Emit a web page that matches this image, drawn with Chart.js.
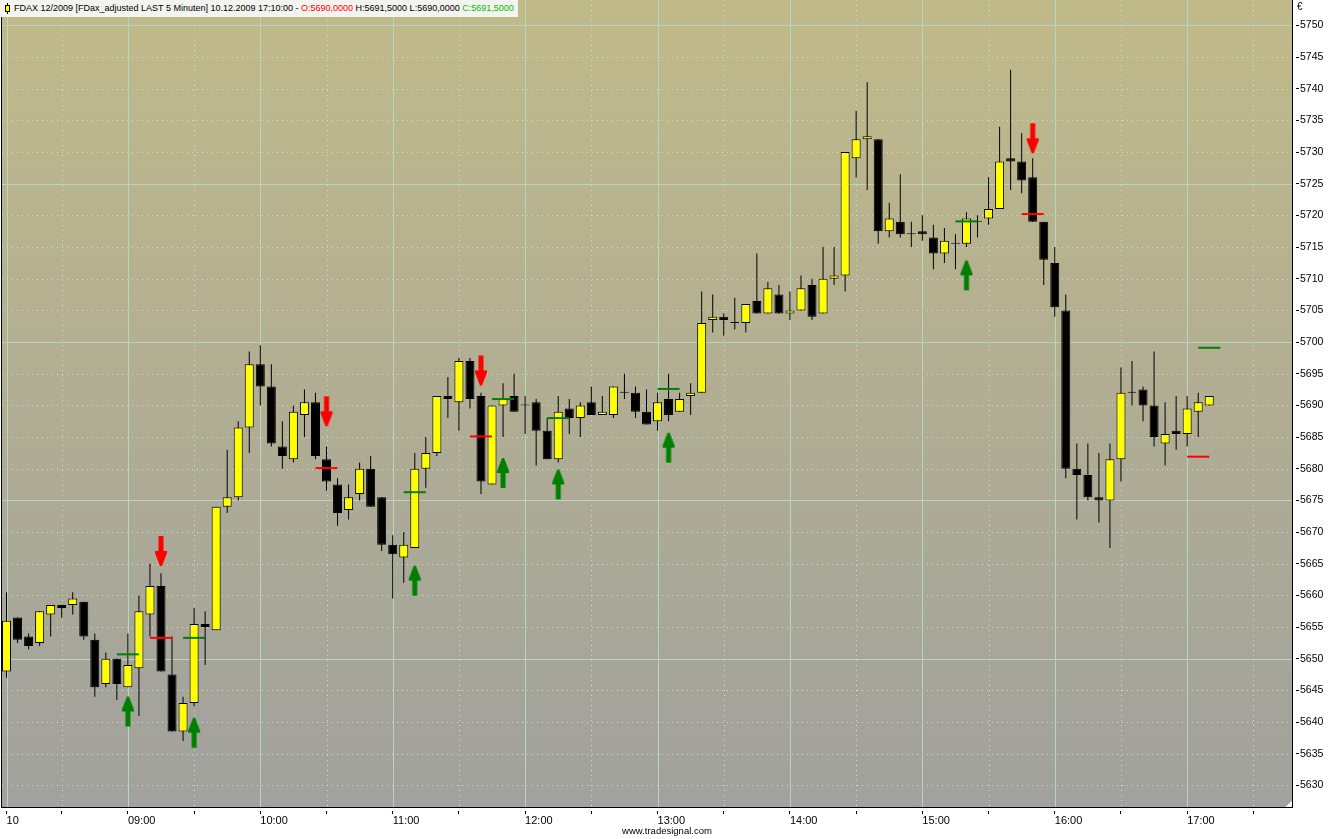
<!DOCTYPE html>
<html><head><meta charset="utf-8">
<script src="https://cdn.jsdelivr.net/npm/chart.js@4.4.0/dist/chart.umd.min.js"></script>
<style>
html,body{margin:0;padding:0;background:#fff;}
#wrap{position:relative;width:1334px;height:839px;overflow:hidden;}
#c{position:absolute;left:0;top:0;}
#title{position:absolute;left:0;top:0;height:17px;line-height:17px;background:#f3f3ef;font-family:'Liberation Sans',Arial,sans-serif;font-size:9px;color:#000;padding:0 4px 0 14px;white-space:nowrap;}
#title .o{color:#ff0000;} #title .cl{color:#00c000;}
#iconWick{position:absolute;left:7px;top:3px;width:1px;height:11px;background:#000;}
#iconBody{position:absolute;left:5px;top:5px;width:3px;height:5px;background:#ffff00;border:1px solid #000;}
#euro{position:absolute;left:1297px;top:1px;font-family:'Liberation Sans',Arial,sans-serif;font-size:10px;color:#000;}
#wm{position:absolute;left:0;width:1334px;text-align:center;top:825px;font-family:'Liberation Sans',Arial,sans-serif;font-size:9.5px;color:#000;}
#corner{position:absolute;left:1286px;top:801px;width:6px;height:6px;background:linear-gradient(135deg,rgba(0,0,0,0) 50%,#f4f4f4 50%);}
</style></head>
<body>
<div id="wrap">
<canvas id="c" width="1334" height="839"></canvas>
<div id="title">FDAX 12/2009 [FDax_adjusted LAST 5 Minuten] 10.12.2009 17:10:00 - <span class="o">O:5690,0000</span> H:5691,5000 L:5690,0000 <span class="cl">C:5691,5000</span></div>
<div id="iconWick"></div><div id="iconBody"></div>
<div id="euro">€</div>
<div id="corner"></div>
<div id="wm">www.tradesignal.com</div>
</div>
<script>
// ---------- DATA ----------
const dayLabel = '10';
const times = [];
for (let m = 8 * 60 + 5; m <= 17 * 60 + 45; m += 5) {
  times.push(String(Math.floor(m / 60)).padStart(2, '0') + ':' + String(m % 60).padStart(2, '0'));
}
const yTicks = [5630,5635,5640,5645,5650,5655,5660,5665,5670,5675,5680,5685,5690,5695,5700,5705,5710,5715,5720,5725,5730,5735,5740,5745,5750];
const yMin = 5626.6, yMax = 5754.0;

const opens = [5648,5656.5,5653.5,5652.5,5657,5658.5,5658.5,5659,5653,5646,
5650,5645.5,5648.5,5657,5661.5,5647.5,5638.5,5643,5655.5,5654.5,
5674,5675.5,5686.5,5696.5,5693,5683.5,5681.5,5688.5,5690.5,5681.5,
5677.5,5673.5,5676,5680,5675.5,5668,5666,5667.5,5680,5682.5,
5691.5,5690.5,5697,5691.5,5677.5,5690,5691.5,5690,5690.5,5686,
5681.5,5689.5,5688,5690.5,5688.5,5688.5,5692,5692,5689,5687.5,
5691,5689,5691.5,5692,5703.5,5704,5703,5703,5706.5,5704.5,
5707.5,5704.5,5705,5709,5704.5,5710,5710.5,5729,5732,5732,
5717.5,5719,5717,5717.5,5716.5,5714,5715.5,5715.5,5719,5719.5,
5721,5729,5728.5,5726,5719,5712.5,5705,5680,5679,5675.5,
5675,5681.5,5692,5692.5,5690,5684,5686,5685.5,5689,5690];
const highs = [5660.5,5656.5,5654,5657.5,5658.5,5658.5,5660.5,5659,5654,5651,
5650,5654,5660,5665,5663.5,5653.5,5644,5658,5657.5,5674,
5683,5687.5,5698.5,5699.5,5696.5,5687.5,5690,5692.5,5692,5683.5,
5678.5,5677.5,5681,5682,5675.5,5669.5,5670,5682.5,5685,5691.5,
5694.5,5697.5,5697.5,5692,5690,5693.5,5695,5691.5,5691,5688,
5691.5,5691,5690.5,5693,5691.5,5693,5695,5693,5692.5,5692,
5695,5692,5693.5,5708,5707.5,5704.5,5707,5706,5714,5709.5,
5709,5708,5710.5,5710,5715,5715,5730,5736.5,5741,5732,
5722,5726.5,5719,5720,5718.5,5718,5717,5720.5,5720,5726,
5734,5743,5733,5729,5719,5715,5707.5,5684,5684,5682.5,
5684,5696,5697,5693,5698.5,5690.5,5691.5,5691.5,5692,5691.5];
const lows = [5647,5652.5,5651.5,5652,5653.5,5656.5,5657,5653,5644,5645.5,
5643.5,5645.5,5641,5653.5,5648,5638.5,5637,5642.5,5649,5654.5,
5673,5675,5682.5,5690,5683.5,5680,5681,5685,5681.5,5676.5,
5671,5672,5675,5674,5667,5659.5,5662,5667.5,5677,5682,
5688,5686,5689.5,5676,5677.5,5685,5689,5685.5,5680.5,5681.5,
5681,5685.5,5685,5688.5,5688.5,5688,5691,5688,5687,5686,
5687.5,5689,5688.5,5692,5701.5,5701,5702,5701.5,5704.5,5704.5,
5704.5,5703.5,5705,5703.5,5704.5,5709,5708,5726,5724,5715.5,
5716.5,5716.5,5715,5716,5711.5,5712.5,5711.5,5715,5716.5,5718.5,
5721,5724,5723.5,5719,5709,5704,5678.5,5672,5675,5671.5,
5667.5,5678,5690,5687.5,5683.5,5680.5,5683,5683.5,5685,5690];
const closes = [5656,5653,5652,5657.5,5658.5,5658,5659.5,5653.5,5645.5,5650,
5646,5649,5657.5,5661.5,5648,5638.5,5643,5655.5,5655,5674,
5675.5,5686.5,5696.5,5693,5684,5682,5689,5690.5,5682,5678,
5673,5675.5,5680,5674,5668,5666.5,5668,5680,5682.5,5691.5,
5691,5697,5691,5678,5690,5691,5689,5690,5686,5681.5,
5689,5688,5690,5688.5,5689,5693,5692,5689,5687,5690.5,
5688.5,5691,5692,5703,5704,5703.5,5703,5706,5704.5,5708.5,
5704.5,5705,5708.5,5704,5710,5710.5,5730,5732,5732.5,5717.5,
5719.5,5717,5717,5717,5714,5716,5715.5,5719.5,5719,5721,
5728.5,5728.5,5725.5,5719,5713,5705.5,5680,5679,5675.5,5675,
5681.5,5692,5692,5690,5685,5685.5,5685.5,5689.5,5690.5,5691.5];

// signals (bar indices are 0-based)
const buyArrowBars  = [11, 17, 37, 45, 50, 60, 87];
const buyArrowTips  = [5644.05, 5640.7, 5664.7, 5681.7, 5679.9, 5685.7, 5712.9];
const sellArrowBars = [14, 29, 43, 93];
const sellArrowTips = [5664.65, 5686.7, 5693.15, 5729.8];
const greenLevelBars = [11, 17, 37, 45, 50, 60, 87, 109];
const greenLevels    = [5650.7, 5653.3, 5676.3, 5691.0, 5688.0, 5692.6, 5719.05, 5699.1];
const redLevelBars   = [14, 29, 43, 93, 108];
const redLevels      = [5653.3, 5680.1, 5685.1, 5720.2, 5681.9];

// ---------- BUILD ----------
function sparse(bars, vals) {
  const arr = times.map(() => null);
  bars.forEach((b, k) => { arr[b] = vals[k]; });
  return arr;
}
function makeArrow(color, up) {
  const c = document.createElement('canvas');
  c.width = 14; c.height = 62;
  const g = c.getContext('2d');
  let pts = [[6,31],[8,31],[13,44],[13,46],[9.5,46],[9.5,61],[4.5,61],[4.5,46],[1,46],[1,44]];
  if (!up) pts = pts.map(p => [p[0], 62 - p[1]]);
  g.fillStyle = color;
  g.beginPath();
  pts.forEach((p, i) => i ? g.lineTo(p[0], p[1]) : g.moveTo(p[0], p[1]));
  g.closePath(); g.fill();
  return c;
}
function xTickText(i) {
  if (i === 0) return dayLabel;
  return times[i].endsWith(':00') ? times[i] : '';
}
const gridSolid = '#b6d6c2';
const gridDot = '#c6e2d0';

const backdrop = {
  id: 'backdrop',
  beforeDraw(chart) {
    const {ctx, chartArea: a, scales} = chart;
    const xs = scales.x, ys = scales.y;
    ctx.save();
    ctx.fillStyle = '#ffffff';
    ctx.fillRect(0, 0, chart.width, chart.height);
    const gr = ctx.createLinearGradient(0, a.top, 0, a.bottom);
    gr.addColorStop(0, '#c0ba89');
    gr.addColorStop(1, '#a1a19e');
    ctx.fillStyle = gr;
    ctx.fillRect(a.left, a.top, a.right - a.left, a.bottom - a.top);
    ctx.lineWidth = 1;
    ys.ticks.forEach(t => {
      const py = Math.round(ys.getPixelForValue(t.value)) + 0.5;
      const solid = t.value % 25 === 0;
      ctx.setLineDash(solid ? [] : [1, 4]);
      ctx.strokeStyle = solid ? gridSolid : gridDot;
      ctx.beginPath(); ctx.moveTo(a.left + 1, py); ctx.lineTo(a.right, py); ctx.stroke();
    });
    xs.ticks.forEach(t => {
      const px = Math.round(xs.getPixelForValue(t.value)) + 0.5;
      const solid = xTickText(t.value) !== '';
      ctx.setLineDash(solid ? [] : [1, 4]);
      ctx.strokeStyle = solid ? gridSolid : gridDot;
      ctx.beginPath(); ctx.moveTo(px, a.top); ctx.lineTo(px, a.bottom); ctx.stroke();
    });
    ctx.setLineDash([]);
    ctx.strokeStyle = '#000';
    ctx.beginPath(); ctx.moveTo(a.left + 0.5, a.top); ctx.lineTo(a.left + 0.5, a.bottom); ctx.stroke();
    ctx.restore();
  }
};

const font = {family: "'Liberation Sans', Arial, sans-serif"};

new Chart(document.getElementById('c'), {
  type: 'bar',
  data: {
    labels: times,
    datasets: [
      { type: 'line', data: sparse(greenLevelBars, greenLevels), showLine: false, order: 0,
        pointStyle: 'line', pointRadius: 11, pointBorderWidth: 2, borderColor: '#008000', pointBorderColor: '#008000' },
      { type: 'line', data: sparse(redLevelBars, redLevels), showLine: false, order: 0,
        pointStyle: 'line', pointRadius: 11, pointBorderWidth: 2, borderColor: '#ff0000', pointBorderColor: '#ff0000' },
      { type: 'line', data: sparse(buyArrowBars, buyArrowTips), showLine: false, order: 1,
        pointStyle: makeArrow('#008000', true), pointRadius: 5 },
      { type: 'line', data: sparse(sellArrowBars, sellArrowTips), showLine: false, order: 1,
        pointStyle: makeArrow('#ff0000', false), pointRadius: 5 },
      { type: 'bar', data: opens.map((o, i) => [o, closes[i]]), order: 2, grouped: false,
        backgroundColor: opens.map((o, i) => closes[i] > o ? '#ffff00' : '#000000'),
        borderColor: '#000000', borderWidth: 1, borderSkipped: false, barThickness: 9,
        minBarLength: 1, inflateAmount: 0 },
      { type: 'bar', data: lows.map((l, i) => [l, highs[i]]), order: 3, grouped: false,
        backgroundColor: '#000000', borderWidth: 0, barThickness: 1, inflateAmount: 0 }
    ]
  },
  options: {
    responsive: false,
    devicePixelRatio: 1,
    animation: false,
    events: [],
    layout: { autoPadding: false, padding: { left: 1, top: 0, right: 0, bottom: 0 } },
    plugins: { legend: { display: false }, tooltip: { enabled: false }, title: { display: false } },
    scales: {
      x: {
        type: 'category',
        offset: true,
        afterBuildTicks: s => { s.ticks = s.ticks.filter(t => t.value === 0 || /:(00|30)$/.test(times[t.value])); },
        afterFit: s => { s.height = 32; s.paddingLeft = 0; s.paddingRight = 0; },
        grid: { drawOnChartArea: false, drawTicks: true, tickLength: 7, tickColor: '#000', tickBorderDash: [0, 3, 4, 20], offset: false },
        border: { display: true, color: '#000', width: 1 },
        ticks: { autoSkip: false, maxRotation: 0, minRotation: 0, align: 'start', padding: 0, color: '#000',
          font: Object.assign({size: 11}, font), callback: v => xTickText(v) }
      },
      y: {
        position: 'right',
        min: yMin, max: yMax,
        afterBuildTicks: s => { s.ticks = yTicks.map(v => ({value: v})); },
        afterFit: s => { s.width = 42; s.paddingTop = 0; s.paddingBottom = 0; },
        grid: { drawOnChartArea: false, drawTicks: true, tickLength: 7, tickColor: '#000', tickBorderDash: [0, 3, 4, 20] },
        border: { display: true, color: '#000', width: 1 },
        ticks: { padding: 1, color: '#000', font: Object.assign({size: 10.5}, font), callback: v => String(v) }
      }
    }
  },
  plugins: [backdrop]
});
</script>
</body></html>
